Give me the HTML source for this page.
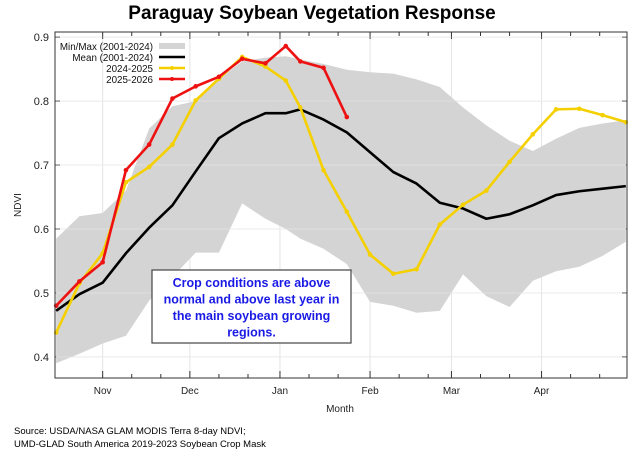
<!DOCTYPE html>
<html><head><meta charset="utf-8"><style>
body{margin:0;background:#fff;width:633px;height:454px;overflow:hidden;font-family:"Liberation Sans",sans-serif}
svg text{font-family:"Liberation Sans",sans-serif}
</style></head><body>
<svg id="chart" width="633" height="454" xmlns="http://www.w3.org/2000/svg">
<text x="312" y="19" text-anchor="middle" font-size="19" font-weight="bold" fill="#000">Paraguay Soybean Vegetation Response</text>
<g id="plot"></g>
<text transform="translate(21,205) rotate(-90)" text-anchor="middle" font-size="10" fill="#222">NDVI</text>
<text x="340" y="412" text-anchor="middle" font-size="10" fill="#222">Month</text>
<text x="14" y="434" font-size="9.5" fill="#000">Source: USDA/NASA GLAM MODIS Terra 8-day NDVI;</text>
<text x="14" y="447" font-size="9.5" fill="#000">UMD-GLAD South America 2019-2023 Soybean Crop Mask</text>
</svg>
<script>
const days=[-77,-69,-61,-53,-45,-37,-29,-21,-13,-5,2,7,15,23,31,39,47,55,63,71,79,87,95,103,111,119];
const maxVals=[0.585,0.62,0.625,0.66,0.757,0.792,0.80,0.835,0.862,0.868,0.87,0.865,0.858,0.849,0.845,0.843,0.834,0.822,0.79,0.762,0.738,0.722,0.741,0.758,0.765,0.77];
const minVals=[0.39,0.405,0.421,0.433,0.488,0.525,0.563,0.563,0.64,0.616,0.60,0.585,0.569,0.545,0.486,0.48,0.469,0.472,0.529,0.495,0.478,0.519,0.534,0.541,0.558,0.58];
const meanVals=[0.472,0.498,0.516,0.562,0.602,0.637,0.69,0.742,0.765,0.781,0.781,0.787,0.771,0.751,0.72,0.689,0.671,0.641,0.632,0.616,0.623,0.637,0.653,0.659,0.663,0.667];
const y2425=[0.438,0.515,0.562,0.673,0.697,0.732,0.801,0.835,0.869,0.854,0.832,0.79,0.692,0.627,0.56,0.53,0.537,0.607,0.638,0.66,0.705,0.748,0.787,0.788,0.778,0.767];
const y2526=[0.48,0.518,0.548,0.692,0.732,0.804,0.823,0.838,0.866,0.859,0.886,0.862,0.852,0.775];
const monthLabels=["Nov","Dec","Jan","Feb","Mar","Apr"];
const monthDays=[-61,-31,0,31,59,90];
const yTicks=[0.4,0.5,0.6,0.7,0.8,0.9];
const NS="http://www.w3.org/2000/svg";
const L=55,R=627,T=32,B=378;
const xd0=-77.4,xd1=119.4,yv0=0.367,yv1=0.908;
function X(d){return L+(d-xd0)/(xd1-xd0)*(R-L);}
function Y(v){return B-(v-yv0)/(yv1-yv0)*(B-T);}
const g=document.getElementById('plot');
function mk(tag,attrs,parent){const e=document.createElementNS(NS,tag);for(const k in attrs)e.setAttribute(k,attrs[k]);(parent||g).appendChild(e);return e;}
yTicks.forEach(v=>{
 const l=mk('line',{x1:L,x2:R,y1:Y(v),y2:Y(v),stroke:'#e4e4e4','stroke-width':1});
 
 
 const t=mk('text',{x:L-6,y:Y(v)+4,'text-anchor':'end','font-size':11,fill:'#222'});
 t.textContent=v.toFixed(1);
 
 
 mk('line',{x1:L,x2:L+5,y1:Y(v),y2:Y(v),stroke:'#333'});
 mk('line',{x1:R,x2:R-5,y1:Y(v),y2:Y(v),stroke:'#333'});
});
monthDays.forEach((d,i)=>{
 const l=mk('line',{x1:X(d),x2:X(d),y1:T,y2:B,stroke:'#e4e4e4','stroke-width':1});
 
 
 const t=mk('text',{x:X(d),y:B+16,'text-anchor':'middle','font-size':10,fill:'#222'});
 t.textContent=monthLabels[i];
 
 
 [0,10,20].forEach(o=>{const dd=d+o;if(dd>xd0&&dd<xd1){const len=o?4:7;
  mk('line',{x1:X(dd),x2:X(dd),y1:B,y2:B-len,stroke:'#333'});
  mk('line',{x1:X(dd),x2:X(dd),y1:T,y2:T+len,stroke:'#333'});}});
});
let pts=days.map((d,i)=>X(d)+','+Y(maxVals[i]));
for(let i=days.length-1;i>=0;i--)pts.push(X(days[i])+','+Y(minVals[i]));
const band=mk('polygon',{points:pts.join(' '),fill:'#d4d4d4'});


yTicks.forEach(v=>mk('line',{x1:L,x2:R,y1:Y(v),y2:Y(v),stroke:'#ffffff','stroke-opacity':0.25}));
function line(vals,color,name,markers){
 const p=vals.map((v,i)=>X(days[i])+','+Y(v)).join(' ');
 const pl=mk('polyline',{points:p,fill:'none',stroke:color,'stroke-width':2.6,'stroke-linejoin':'round'});
 
 
 if(markers)vals.forEach((v,i)=>{const c=mk('circle',{cx:X(days[i]),cy:Y(v),r:2.3,fill:color});
  
  });
}
line(meanVals,'#000','mean-line',false);
line(y2425,'#f5d000','series-2024-2025',true);
line(y2526,'#ee1111','series-2025-2026',true);
const fr=mk('rect',{x:L,y:T,width:R-L,height:B-T,fill:'none',stroke:'#333','stroke-width':1});


const leg=mk('g',{});


const lt=["Min/Max (2001-2024)","Mean (2001-2024)","2024-2025","2025-2026"];
const lc=['#d4d4d4','#000','#f5d000','#ee1111'];
lt.forEach((s,i)=>{const y=46+i*11;
 const t=mk('text',{x:153,y:y+4,'text-anchor':'end','font-size':9.8,fill:'#111'},leg);t.textContent=s;
 
 
 mk('line',{x1:159,x2:185,y1:y,y2:y,stroke:lc[i],'stroke-width':i==0?6:2.6},leg);
 if(i>1)mk('circle',{cx:172,cy:y,r:2,fill:lc[i]},leg);
});
const box=mk('rect',{x:152,y:270,width:199,height:73,fill:'#fff',stroke:'#444','stroke-width':1.2});


["Crop conditions are above","normal and above last year in","the main soybean growing","regions."].forEach((s,i)=>{
 const t=mk('text',{x:251.5,y:287+i*16.5,'text-anchor':'middle','font-size':12.5,'font-weight':'bold',fill:'#1a1ae6'});
 t.textContent=s;
 
 
});
</script>
</body></html>
